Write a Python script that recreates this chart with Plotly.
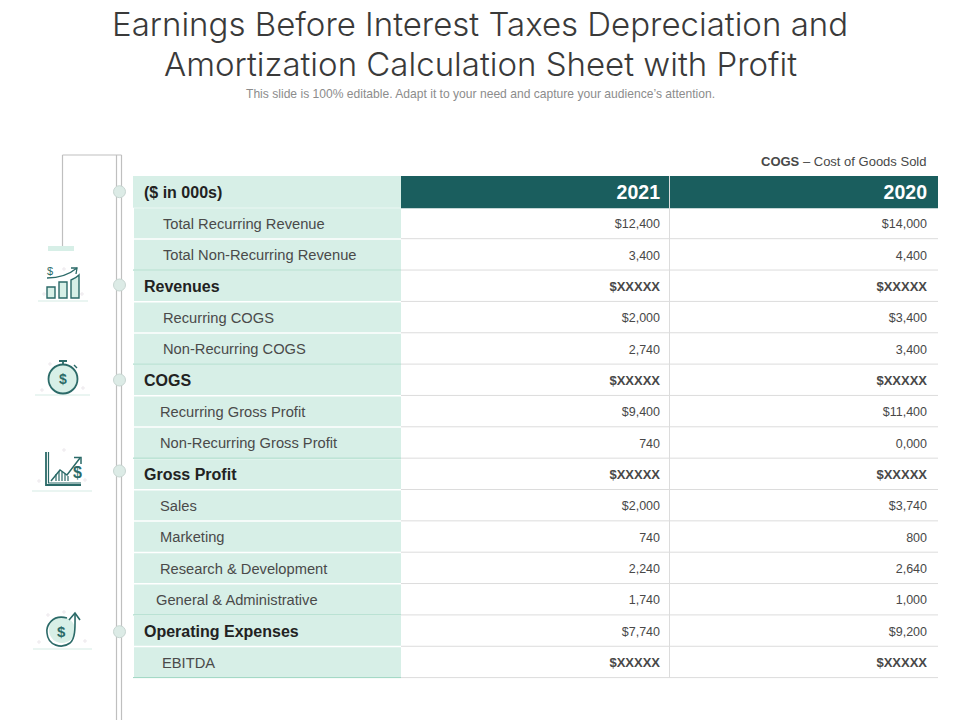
"""Arkusz EBITDA odtworzony jako tabela na osiach w pikselach slajdu."""

import plotly.graph_objects as go

TITLE_LINES = [
    "Earnings Before Interest Taxes Depreciation and",
    "Amortization Calculation Sheet with Profit",
]
SUBTITLE = "This slide is 100% editable. Adapt it to your need and capture your audience’s attention."
NOTE = "<b>COGS</b> – Cost of Goods Sold"

HEADER_LABEL = "($ in 000s)"
YEARS = ["2021", "2020"]
ROW_LABELS = [
    "Total Recurring Revenue",
    "Total Non-Recurring Revenue",
    "Revenues",
    "Recurring COGS",
    "Non-Recurring COGS",
    "COGS",
    "Recurring Gross Profit",
    "Non-Recurring Gross Profit",
    "Gross Profit",
    "Sales",
    "Marketing",
    "Research & Development",
    "General & Administrative",
    "Operating Expenses",
    "EBITDA",
]
VALUES_2021 = [
    "$12,400", "3,400", "$XXXXX", "$2,000", "2,740", "$XXXXX", "$9,400", "740",
    "$XXXXX", "$2,000", "740", "2,240", "1,740", "$7,740", "$XXXXX",
]
VALUES_2020 = [
    "$14,000", "4,400", "$XXXXX", "$3,400", "3,400", "$XXXXX", "$11,400", "0,000",
    "$XXXXX", "$3,740", "800", "2,640", "1,000", "$9,200", "$XXXXX",
]
SUBTOTALS = ["Revenues", "COGS", "Gross Profit", "Operating Expenses"]
BOLD_VALUE_ROWS = ["Revenues", "COGS", "Gross Profit", "EBITDA"]
LABEL_X = [163, 163, 144, 163, 163, 144, 160, 160, 144, 160, 160, 160, 156, 144, 162]
SPINE_DOT_Y = [191.7, 285, 380, 471, 631.7]

# siatka tabeli w pikselach slajdu
LEFT, SPLIT_1, SPLIT_2, RIGHT = 133, 401, 669.5, 938
TOP = 176
ROW_H = 31.35
TEXT_DY = 2.0
TEAL = "#1a5e5e"
MINT = "#d7efe7"
RULE_MINT = "#9bd5c0"
RULE_GREY = "#dcdcdc"
SPINE = "#bfbfbf"
ICON = "#2b6a68"
FAINT = "#d5ebe4"
FONT = "Liberation Sans"


def row_y(i):
    return TOP + ROW_H * (i + 0.5)


def rect(x0, y0, x1, y1, color):
    return dict(type="rect", x0=x0, y0=y0, x1=x1, y1=y1, fillcolor=color, line_width=0, layer="below")


def line(x0, y0, x1, y1, color, width=1):
    return dict(type="line", x0=x0, y0=y0, x1=x1, y1=y1, line=dict(color=color, width=width), layer="below")


def path(d, color=ICON, width=1.4, fill="rgba(0,0,0,0)"):
    return dict(type="path", path=d, line=dict(color=color, width=width), fillcolor=fill, layer="above")


def circle(cx, cy, r, color=ICON, width=1.6, fill="rgba(0,0,0,0)"):
    return dict(type="circle", x0=cx - r, y0=cy - r, x1=cx + r, y1=cy + r,
                line=dict(color=color, width=width), fillcolor=fill, layer="above")


def dots(points):
    return [circle(x, y, 1.2, color="#e6dfe6", width=0.8, fill="white") for x, y in points]


shapes = []

# pasy tabeli
shapes.append(rect(LEFT, TOP, SPLIT_1, TOP + ROW_H + 0.5, MINT))
shapes.append(rect(SPLIT_1, TOP, RIGHT, TOP + ROW_H + 1, TEAL))
for i, label in enumerate(ROW_LABELS):
    y0 = TOP + ROW_H * (i + 1)
    y1 = y0 + ROW_H
    shapes.append(rect(LEFT + 1, y0 + 1, SPLIT_1, y1 - 0.5, MINT))
    shapes.append(line(SPLIT_1, y1, RIGHT, y1, RULE_GREY))
    next_is_subtotal = i + 1 < len(ROW_LABELS) and ROW_LABELS[i + 1] in SUBTOTALS
    if next_is_subtotal or i == len(ROW_LABELS) - 1:
        shapes.append(line(LEFT, y1, SPLIT_1, y1, RULE_MINT))
shapes.append(line(SPLIT_2, TOP, SPLIT_2, TOP + ROW_H * (len(ROW_LABELS) + 1), RULE_GREY))

# pionowy grzbiet po lewej
shapes.append(line(116.5, 155, 116.5, 720, SPINE, 1.2))
shapes.append(line(121.5, 155, 121.5, 720, SPINE, 1.2))
shapes.append(line(62.5, 155, 121.5, 155, SPINE, 1.2))
shapes.append(line(62.5, 155, 62.5, 246, SPINE, 1.2))
shapes.append(rect(48, 246, 74, 251, MINT))
for y in SPINE_DOT_Y:
    shapes.append(circle(119.5, y, 6, color="#c8d6d2", width=1, fill="#dcebe6"))

# ikona: słupki ze strzałką
shapes += [
    path("M47,298 V287 H55 V298 Z", fill=MINT),
    path("M59,298 V282 H67 V298 Z", fill=MINT),
    path("M71,298 V280 Q76,278 79,275 V298 Z", fill=MINT),
    path("M47,278 Q65,278 77,268", width=1.3),
    path("M71,268 L77,268 L76,274", width=1.3),
    line(38, 301, 88, 301, FAINT),
]
shapes += dots([(44, 294), (64, 269), (82, 294)])
# ikona: stoper
shapes += [
    circle(63, 379, 14.5, fill=MINT, width=1.8),
    path("M59,361 H67 M63,361 V365", width=1.8),
    path("M74,365 L77,368", width=1.4),
    line(35, 395, 90, 395, FAINT),
]
shapes += dots([(50, 364), (42, 390), (83, 388)])
# ikona: wykres z dolarem
shapes += [
    path("M46,452 V485 H81", width=1.8),
    path("M48.5,452 V483 H81", width=1.2),
    path("M51,481 L60,470 L67,475 L80,458", width=1.5),
    path("M74,457.5 H81 V464", width=1.5),
    path("M56,481 V474 M59,481 V471 M62,481 V472 M65,481 V474 M68,481 V476", width=1.2),
    line(32, 491, 92, 491, FAINT),
]
shapes += dots([(64, 450), (39, 481), (85, 480)])
# ikona: moneta ze strzałką
shapes += [
    circle(62, 630, 13, color="rgba(0,0,0,0)", width=0, fill=MINT),
    path("M67,618 C52,614 46,626 47,633 C48,646 62,649 70,643 C76,638 75,625 75,613", width=1.6),
    path("M69,620 L75,613 L80,620", width=1.6),
    line(33, 649, 92, 649, FAINT),
]
shapes += dots([(48, 615), (64, 612), (39, 642), (85, 641)])

fig = go.Figure()

# tekst komórek rysowany z tablic danych
ys = [row_y(i + 1) + TEXT_DY for i in range(len(ROW_LABELS))]
fig.add_trace(go.Scatter(
    x=LABEL_X, y=ys, mode="text", textposition="middle right",
    text=[f"<b>{t}</b>" if t in SUBTOTALS else t for t in ROW_LABELS],
    textfont=dict(
        family=FONT, size=[16 if t in SUBTOTALS else 14.7 for t in ROW_LABELS],
        color=["#222222" if t in SUBTOTALS else "#4a4a4a" for t in ROW_LABELS],
    ),
    hoverinfo="skip",
))
for values, edge in [(VALUES_2021, SPLIT_2 - 9.5), (VALUES_2020, RIGHT - 11)]:
    fig.add_trace(go.Scatter(
        x=[edge] * len(values), y=ys, mode="text", textposition="middle left",
        text=[f"<b>{v}</b>" if ROW_LABELS[i] in BOLD_VALUE_ROWS else v for i, v in enumerate(values)],
        textfont=dict(
            family=FONT,
            size=[13 if t in BOLD_VALUE_ROWS else 12.5 for t in ROW_LABELS],
            color="#484848",
        ),
        hoverinfo="skip",
    ))
fig.add_trace(go.Scatter(
    x=[SPLIT_2 - 9.5, RIGHT - 11], y=[row_y(0) + TEXT_DY] * 2, mode="text", textposition="middle left",
    text=[f"<b>{y}</b>" for y in YEARS],
    textfont=dict(family=FONT, size=19.5, color="white"),
    hoverinfo="skip",
))
fig.add_trace(go.Scatter(
    x=[144], y=[row_y(0) + TEXT_DY], mode="text", textposition="middle right",
    text=[f"<b>{HEADER_LABEL}</b>"],
    textfont=dict(family=FONT, size=16, color="#222222"),
    hoverinfo="skip",
))

title_font = dict(size=33, family="Inter", color="#3a3a3a", weight=300)
annotations = [
    dict(x=480, y=23.5, text=TITLE_LINES[0], font=title_font),
    dict(x=480, y=63.5, text=TITLE_LINES[1], font=title_font),
    dict(x=480, y=94, text=SUBTITLE, font=dict(size=12.1, family=FONT, color="#8c8c8c")),
    dict(x=928, y=161, text=NOTE, xanchor="right", font=dict(size=13, family=FONT, color="#484848")),
    dict(x=50, y=271, text="$", font=dict(size=11, family=FONT, color=ICON)),
    dict(x=63, y=379, text="<b>$</b>", font=dict(size=14, family=FONT, color=ICON)),
    dict(x=77, y=472, text="<b>$</b>", font=dict(size=16, family=FONT, color=ICON)),
    dict(x=61, y=631, text="<b>$</b>", font=dict(size=15, family=FONT, color=ICON)),
]
for a in annotations:
    a.update(showarrow=False, xref="x", yref="y", yanchor="middle")

fig.update_layout(
    width=960, height=720,
    margin=dict(l=0, r=0, t=0, b=0),
    paper_bgcolor="white", plot_bgcolor="white",
    showlegend=False,
    xaxis=dict(range=[0, 960], visible=False, fixedrange=True),
    yaxis=dict(range=[720, 0], visible=False, fixedrange=True),
    shapes=shapes,
    annotations=annotations,
)

# domyślny margines body przesuwa wykres o 8 px
fig.write_html(
    "out.html",
    config={"displayModeBar": False},
    post_script="document.body.style.margin='0';document.body.style.overflow='hidden';",
)
